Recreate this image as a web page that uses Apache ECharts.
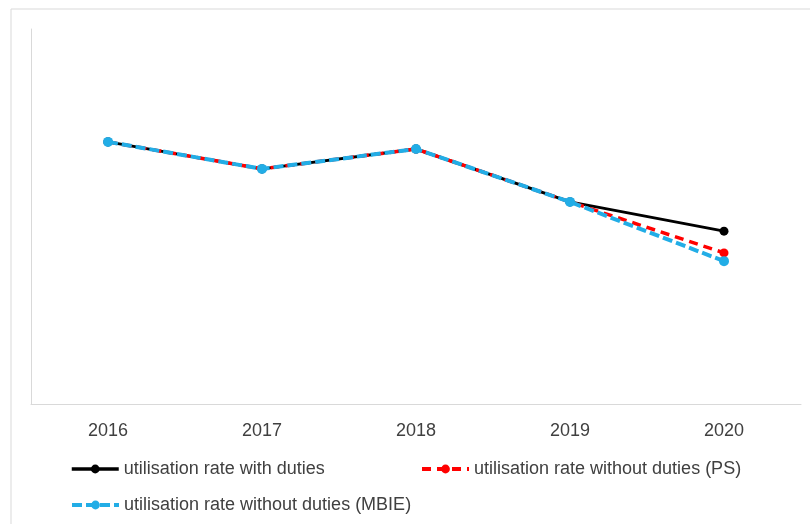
<!DOCTYPE html>
<html>
<head>
<meta charset="utf-8">
<script src="https://cdn.jsdelivr.net/npm/echarts@6/dist/echarts.min.js"></script>
<style>
  html, body { margin: 0; padding: 0; background: #ffffff; }
  #chart { width: 810px; height: 524px; }
</style>
</head>
<body>
<div id="chart"></div>
<script>
// Years on the horizontal axis
const years = ['2016', '2017', '2018', '2019', '2020'];

// Utilisation rates (%) for each scenario
const withDuties = [69.9, 62.7, 68.0, 53.9, 46.1];
const withoutDutiesPS = [69.9, 62.7, 68.0, 53.9, 40.3];
const withoutDutiesMBIE = [69.9, 62.7, 68.0, 53.9, 38.1];

const seriesNames = [
  'utilisation rate with duties',
  'utilisation rate without duties (PS)',
  'utilisation rate without duties (MBIE)'
];

const FONT = '"Liberation Sans", Arial, sans-serif';
const TEXT = '#404040';
const BLACK = '#000000';
const RED = '#ff0000';
const BLUE = '#22ade6';

const chart = echarts.init(document.getElementById('chart'), null, { renderer: 'canvas' });

function legendAt(left, top, name, lineWidth) {
  return {
    orient: 'horizontal',
    left: left,
    top: top,
    itemWidth: 47,
    itemHeight: 11,
    itemGap: 0,
    padding: 0,
    selectedMode: false,
    lineStyle: { width: lineWidth },
    textStyle: { fontFamily: FONT, fontSize: 18, color: TEXT },
    data: [name]
  };
}

chart.setOption({
  animation: false,
  backgroundColor: '#ffffff',
  graphic: [{
    type: 'rect',
    shape: { x: 11, y: 9, width: 820, height: 540 },
    style: { fill: 'none', stroke: '#d9d9d9', lineWidth: 1 },
    silent: true,
    z: -1
  }],
  grid: { left: 31, right: 9, top: 29, bottom: 120, containLabel: false },
  xAxis: {
    type: 'category',
    data: years,
    boundaryGap: true,
    axisLine: { show: true, lineStyle: { color: '#d9d9d9', width: 1 } },
    axisTick: { show: false },
    axisLabel: { fontFamily: FONT, fontSize: 18, color: TEXT, margin: 18 },
    splitLine: { show: false }
  },
  yAxis: {
    type: 'value',
    min: 0,
    max: 100,
    axisLine: { show: true, lineStyle: { color: '#d9d9d9', width: 1 } },
    axisTick: { show: false },
    axisLabel: { show: false },
    splitLine: { show: false }
  },
  legend: [
    legendAt(70, 460, seriesNames[0], 3.5),
    legendAt(420, 460, seriesNames[1], 4),
    legendAt(70, 496, seriesNames[2], 4)
  ],
  series: [
    {
      name: seriesNames[0],
      type: 'line',
      data: withDuties,
      symbol: 'circle',
      symbolSize: 9,
      itemStyle: { color: BLACK },
      lineStyle: { color: BLACK, width: 3 },
      z: 2
    },
    {
      name: seriesNames[1],
      type: 'line',
      data: withoutDutiesPS,
      symbol: 'circle',
      symbolSize: 9,
      itemStyle: { color: RED },
      lineStyle: { color: RED, width: 3.5, type: [9, 6] },
      z: 3
    },
    {
      name: seriesNames[2],
      type: 'line',
      data: withoutDutiesMBIE,
      symbol: 'circle',
      symbolSize: 10,
      itemStyle: { color: BLUE },
      lineStyle: { color: BLUE, width: 4, type: [10, 4] },
      z: 4
    }
  ]
});
</script>
</body>
</html>
